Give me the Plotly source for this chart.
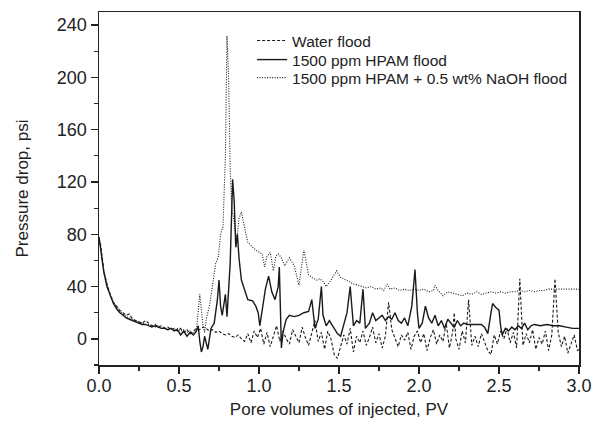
import plotly.graph_objects as go

# ---- Water flood (dashed) ----
water_x = [0.00, 0.01, 0.02, 0.03, 0.05, 0.07, 0.09, 0.11, 0.13, 0.15, 0.17, 0.19, 0.21, 0.23, 0.25, 0.27,
           0.29, 0.31, 0.33, 0.35, 0.37, 0.39, 0.41, 0.43, 0.45, 0.47, 0.49, 0.51, 0.53, 0.55, 0.57, 0.59,
           0.61, 0.63, 0.65, 0.67, 0.69, 0.71, 0.73, 0.75, 0.77, 0.79, 0.81, 0.83, 0.85, 0.87, 0.89, 0.91,
           0.93, 0.95, 0.97, 0.99, 1.01, 1.03, 1.05, 1.07, 1.09, 1.11, 1.13, 1.15, 1.17, 1.19, 1.21, 1.23,
           1.25, 1.27, 1.29, 1.31, 1.33, 1.35, 1.37, 1.39, 1.41, 1.43, 1.45, 1.47, 1.49, 1.51, 1.53, 1.55,
           1.57, 1.59, 1.61, 1.63, 1.65, 1.67, 1.69, 1.71, 1.73, 1.75, 1.77, 1.79, 1.81, 1.83, 1.85, 1.87,
           1.89, 1.91, 1.93, 1.95, 1.97, 1.99, 2.01, 2.03, 2.05, 2.07, 2.09, 2.11, 2.13, 2.15, 2.17, 2.19,
           2.21, 2.22, 2.23, 2.25, 2.27, 2.29, 2.31, 2.33, 2.35, 2.37, 2.39, 2.41, 2.43, 2.45, 2.47, 2.49,
           2.51, 2.53, 2.55, 2.57, 2.59, 2.61, 2.63, 2.65, 2.67, 2.69, 2.71, 2.73, 2.75, 2.77, 2.79, 2.81,
           2.83, 2.85, 2.87, 2.89, 2.91, 2.93, 2.95, 2.97, 2.99, 3.00]
water_y = [77, 72, 62, 52, 42, 34, 28, 25, 22, 20, 18, 19, 15, 14, 13, 12,
           14, 12, 10, 11, 9, 10, 8, 9, 7, 8, 6, 8, 5, 7, 4, 6,
           8, 7, 9, 8, 6, 7, 5, 6, 4, 3, 4, 2, 1, 3, 0, -2,
           4, -3, 6, 1, 8, -4, 5, -6, 3, 10, -2, 6, 0, -4, 7, 2,
           -3, 9, 1, -5, 4, 14, -2, 5, -8, 6, 0, -12, -15, -6, 3, -4,
           8, -10, 2, -3, 6, -5, 1, 9, -3, 4, -7, 2, 28, 7, 0, -6,
           3, -1, 5, -8, 2, 6, -3, 4, -9, 1, 7, -4, 3, -2, 12, -7,
           5, 20, 0, -8, 6, -3, 30, -5, 2, -6, 4, -2, -9, -12, 3, -4,
           6, 0, 8, -3, 5, -7, 46, -5, 4, -3, 7, -8, 1, -4, 6, -9,
           3, 46, 5, -6, 2, -11, -4, 3, -9, -8]

# ---- 1500 ppm HPAM flood (solid) ----
hpam_x = [0.00, 0.01, 0.02, 0.03, 0.05, 0.07, 0.09, 0.11, 0.13, 0.15, 0.17, 0.19, 0.21, 0.23, 0.25, 0.27,
          0.29, 0.31, 0.33, 0.35, 0.37, 0.39, 0.41, 0.43, 0.45, 0.47, 0.49, 0.51, 0.53, 0.55, 0.57, 0.59,
          0.61, 0.62, 0.63, 0.64, 0.65, 0.66, 0.67, 0.68, 0.69, 0.70, 0.72, 0.74, 0.75, 0.76, 0.77, 0.78,
          0.79, 0.80, 0.81, 0.82, 0.83, 0.835, 0.845, 0.855, 0.865, 0.875, 0.89, 0.91, 0.93, 0.96, 0.98, 0.995,
          1.005, 1.02, 1.04, 1.06, 1.08, 1.10, 1.12, 1.127, 1.135, 1.14, 1.15, 1.17, 1.19, 1.22, 1.25, 1.28,
          1.31, 1.33, 1.35, 1.37, 1.39, 1.40, 1.42, 1.44, 1.46, 1.49, 1.51, 1.53, 1.55, 1.57, 1.585, 1.59,
          1.61, 1.63, 1.65, 1.665, 1.69, 1.71, 1.73, 1.75, 1.77, 1.79, 1.81, 1.83, 1.85, 1.87, 1.89, 1.91,
          1.93, 1.955, 1.975, 1.99, 2.00, 2.02, 2.04, 2.06, 2.08, 2.10, 2.12, 2.14, 2.16, 2.18, 2.20, 2.22,
          2.24, 2.26, 2.28, 2.30, 2.33, 2.36, 2.39, 2.41, 2.43, 2.45, 2.46, 2.48, 2.50, 2.51, 2.52, 2.54,
          2.56, 2.58, 2.60, 2.62, 2.64, 2.66, 2.68, 2.70, 2.72, 2.76, 2.80, 2.84, 2.88, 2.92, 2.96, 3.00]
hpam_y = [78, 70, 60, 51, 40, 33, 27, 23, 20, 18, 16, 15, 14, 13, 12, 11,
          11, 10, 9, 10, 9, 8, 8, 7, 8, 6, 7, 3, 6, 2, 5, 3,
          6, 10, -2, -10, -6, 2, -3, -8, 0, 8, 12, 30, 45, 25, 18, 28,
          34, 17, 40, 58, 100, 122, 105, 70, 80, 62, 45, 38, 30, 29, 25, 20,
          10, 22, 38, 48, 36, 30, 40, 55, 20, -7, 5, 15, 18, 17, 18, 20,
          21, 30, 8, 15, 40, 18, 10, 14, 10, 4, 2, 12, 20, 40, 20, 10,
          14, 12, 38, 8, 12, 20, 14, 16, 18, 14, 17, 15, 20, 14, 12, 16,
          10, 25, 53, 20, 8, 12, 25, 16, 12, 18, 10, 14, 8, 15, 12, 9,
          14, 10, 12, 11, 11, 11, 11, 9, 4, 20, 27, 24, 22, 10, 3, 8,
          6, 9, 7, 10, 8, 12, 7, 10, 11, 10, 11, 10, 10, 9, 8, 8]

# ---- 1500 ppm HPAM + 0.5 wt% NaOH flood (dotted) ----
naoh_x = [0.00, 0.01, 0.02, 0.03, 0.05, 0.07, 0.09, 0.11, 0.13, 0.15, 0.17, 0.19, 0.21, 0.23, 0.25, 0.27,
          0.29, 0.31, 0.33, 0.35, 0.37, 0.39, 0.41, 0.43, 0.45, 0.47, 0.49, 0.51, 0.53, 0.55, 0.57, 0.59,
          0.61, 0.62, 0.63, 0.64, 0.65, 0.66, 0.67, 0.69, 0.71, 0.73, 0.745, 0.76, 0.775, 0.79, 0.80, 0.81,
          0.82, 0.83, 0.84, 0.85, 0.86, 0.875, 0.89, 0.91, 0.93, 0.96, 0.99, 1.02, 1.035, 1.05, 1.07, 1.09,
          1.105, 1.12, 1.14, 1.16, 1.19, 1.22, 1.25, 1.28, 1.31, 1.33, 1.36, 1.38, 1.40, 1.42, 1.45, 1.485,
          1.51, 1.53, 1.56, 1.59, 1.62, 1.65, 1.67, 1.70, 1.73, 1.76, 1.78, 1.80, 1.82, 1.85, 1.88, 1.91,
          1.94, 1.97, 2.00, 2.03, 2.06, 2.09, 2.10, 2.12, 2.15, 2.18, 2.21, 2.24, 2.27, 2.30, 2.33, 2.36,
          2.39, 2.42, 2.45, 2.48, 2.51, 2.54, 2.57, 2.60, 2.63, 2.66, 2.69, 2.72, 2.75, 2.78, 2.81, 2.84,
          2.87, 2.90, 2.93, 2.96, 3.00]
naoh_y = [76, 70, 61, 52, 41, 33, 28, 24, 21, 19, 17, 16, 15, 14, 13, 12,
          11, 11, 10, 9, 10, 8, 9, 7, 8, 7, 8, 6, 7, 5, 6, 4,
          8, 20, 34, 22, 10, 5, 15, 25, 40, 58, 62, 80, 86, 140, 232, 200,
          130, 98, 94, 82, 74, 92, 97, 85, 74, 70, 67, 65, 55, 63, 66, 52,
          63, 65, 62, 56, 62, 56, 41, 68, 49, 47, 45, 46, 44, 40, 45, 52,
          47, 46, 44, 42, 41, 40, 39, 40, 38, 39, 37, 42, 38, 39, 37, 38,
          37, 38, 37, 38, 36, 37, 41, 37, 33, 36, 35, 34, 33, 35, 34, 36,
          34, 35, 36, 35, 36, 35, 36, 36, 37, 36, 37, 36, 37, 37, 38, 38,
          38, 38, 38, 38, 38]

x_ticks = [0.0, 0.5, 1.0, 1.5, 2.0, 2.5, 3.0]
y_ticks = [0, 40, 80, 120, 160, 200, 240]

ink = "#1a1a1a"
fig = go.Figure()
fig.add_trace(go.Scatter(x=water_x, y=water_y, mode="lines", name="Water flood", legend="legend",
                         line=dict(color=ink, width=1.1, dash="3px,2px")))
fig.add_trace(go.Scatter(x=hpam_x, y=hpam_y, mode="lines", name="1500 ppm HPAM flood", legend="legend2",
                         line=dict(color=ink, width=1.4)))
fig.add_trace(go.Scatter(x=naoh_x, y=naoh_y, mode="lines", name="1500 ppm HPAM + 0.5 wt% NaOH flood",
                         legend="legend3",
                         line=dict(color=ink, width=1.1, dash="1px,1.5px")))

font_family = "Liberation Sans, Arial, sans-serif"
leg_common = dict(x=0.319, xanchor="left", yanchor="middle", bgcolor="rgba(0,0,0,0)", borderwidth=0,
                  font=dict(size=15.5, color="#222"))
fig.update_layout(
    width=594, height=427,
    margin=dict(l=99, r=15, t=12, b=62),
    paper_bgcolor="white", plot_bgcolor="white",
    font=dict(family=font_family, color="#222", size=17),
    showlegend=True,
    legend=dict(y=0.918, **leg_common),
    legend2=dict(y=0.864, **leg_common),
    legend3=dict(y=0.813, **leg_common),
    xaxis=dict(range=[0, 3], tickvals=x_ticks, ticktext=[f"{v:.1f}" for v in x_ticks],
               automargin=False,
               showline=True, mirror=True, linecolor="#222", linewidth=1.5,
               ticks="outside", ticklen=7, tickwidth=1.3, tickcolor="#222",
               minor=dict(dtick=0.25, ticks="outside", ticklen=4, tickwidth=1.2, tickcolor="#222"),
               showgrid=False, zeroline=False,
               tickfont=dict(size=18), ticklabelstandoff=-3,
               title=dict(text="Pore volumes of injected, PV", font=dict(size=17), standoff=8)),
    yaxis=dict(range=[-20, 250], tickvals=y_ticks,
               automargin=False,
               showline=True, mirror=True, linecolor="#222", linewidth=1.5,
               ticks="outside", ticklen=7, tickwidth=1.3, tickcolor="#222",
               minor=dict(dtick=20, ticks="outside", ticklen=4, tickwidth=1.2, tickcolor="#222"),
               showgrid=False, zeroline=False,
               tickfont=dict(size=18),
               title=dict(text="Pressure drop, psi", font=dict(size=17), standoff=24)),
)

# remove the default 8px page margin so the figure fills the window exactly
fig.write_html("out.html",
               config={"displayModeBar": False, "staticPlot": True},
               post_script="document.body.style.margin='0';document.body.style.overflow='hidden';")
